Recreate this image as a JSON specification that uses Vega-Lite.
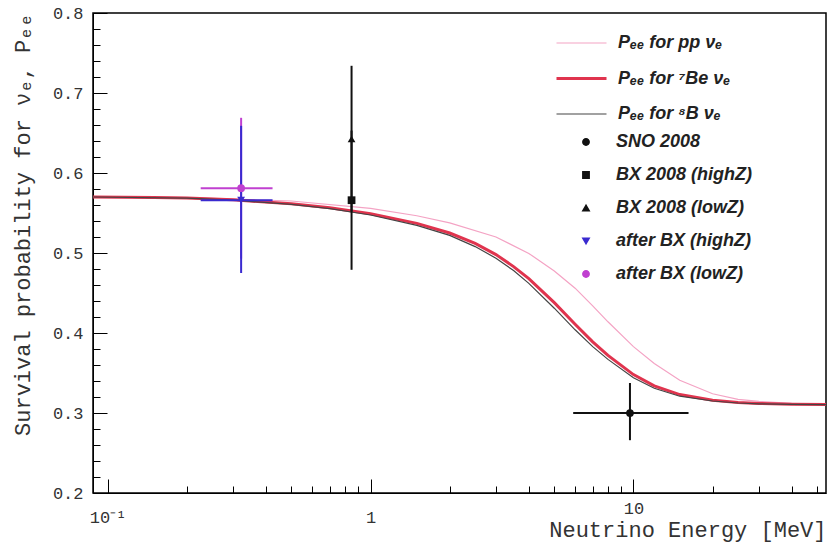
{
  "$schema": "https://vega.github.io/schema/vega-lite/v6.json",
  "width": 733,
  "height": 480,
  "autosize": {"type": "none"},
  "padding": {"left": 93, "top": 13, "right": 5, "bottom": 50},
  "background": "white",
  "config": {
    "view": {"stroke": "#000", "strokeWidth": 1.5},
    "axis": {"labelFont": "Liberation Mono", "titleFont": "Liberation Mono", "labelColor": "#333", "titleColor": "#333", "domainColor": "#000", "tickColor": "#000", "grid": false, "labelOverlap": false}
  },
  "resolve": {"axis": {"x": "independent", "y": "independent"}},
  "datasets": {
    "curves": [
      {"curve": "Pₑₑ for pp νₑ", "E": 0.088, "P": 0.5702},
      {"curve": "Pₑₑ for pp νₑ", "E": 0.2, "P": 0.5694},
      {"curve": "Pₑₑ for pp νₑ", "E": 0.5, "P": 0.5650},
      {"curve": "Pₑₑ for pp νₑ", "E": 1.0, "P": 0.5557},
      {"curve": "Pₑₑ for pp νₑ", "E": 1.5, "P": 0.5466},
      {"curve": "Pₑₑ for pp νₑ", "E": 2.0, "P": 0.5377},
      {"curve": "Pₑₑ for pp νₑ", "E": 3.0, "P": 0.5200},
      {"curve": "Pₑₑ for pp νₑ", "E": 4.0, "P": 0.4995},
      {"curve": "Pₑₑ for pp νₑ", "E": 5.0, "P": 0.4775},
      {"curve": "Pₑₑ for pp νₑ", "E": 6.0, "P": 0.4560},
      {"curve": "Pₑₑ for pp νₑ", "E": 7.0, "P": 0.4340},
      {"curve": "Pₑₑ for pp νₑ", "E": 8.0, "P": 0.4140},
      {"curve": "Pₑₑ for pp νₑ", "E": 10, "P": 0.3830},
      {"curve": "Pₑₑ for pp νₑ", "E": 12, "P": 0.3620},
      {"curve": "Pₑₑ for pp νₑ", "E": 15, "P": 0.3410},
      {"curve": "Pₑₑ for pp νₑ", "E": 20, "P": 0.3240},
      {"curve": "Pₑₑ for pp νₑ", "E": 25, "P": 0.3170},
      {"curve": "Pₑₑ for pp νₑ", "E": 30, "P": 0.3145},
      {"curve": "Pₑₑ for pp νₑ", "E": 40, "P": 0.3121},
      {"curve": "Pₑₑ for pp νₑ", "E": 54, "P": 0.3110},
      {"curve": "Pₑₑ for ⁷Be νₑ", "E": 0.088, "P": 0.5700},
      {"curve": "Pₑₑ for ⁷Be νₑ", "E": 0.15, "P": 0.5695},
      {"curve": "Pₑₑ for ⁷Be νₑ", "E": 0.2, "P": 0.5688},
      {"curve": "Pₑₑ for ⁷Be νₑ", "E": 0.3, "P": 0.5665},
      {"curve": "Pₑₑ for ⁷Be νₑ", "E": 0.5, "P": 0.5615},
      {"curve": "Pₑₑ for ⁷Be νₑ", "E": 0.7, "P": 0.5565},
      {"curve": "Pₑₑ for ⁷Be νₑ", "E": 1.0, "P": 0.5490},
      {"curve": "Pₑₑ for ⁷Be νₑ", "E": 1.5, "P": 0.5370},
      {"curve": "Pₑₑ for ⁷Be νₑ", "E": 2.0, "P": 0.5250},
      {"curve": "Pₑₑ for ⁷Be νₑ", "E": 2.5, "P": 0.5120},
      {"curve": "Pₑₑ for ⁷Be νₑ", "E": 3.0, "P": 0.4980},
      {"curve": "Pₑₑ for ⁷Be νₑ", "E": 3.5, "P": 0.4830},
      {"curve": "Pₑₑ for ⁷Be νₑ", "E": 4.0, "P": 0.4680},
      {"curve": "Pₑₑ for ⁷Be νₑ", "E": 5.0, "P": 0.4380},
      {"curve": "Pₑₑ for ⁷Be νₑ", "E": 6.0, "P": 0.4110},
      {"curve": "Pₑₑ for ⁷Be νₑ", "E": 7.0, "P": 0.3890},
      {"curve": "Pₑₑ for ⁷Be νₑ", "E": 8.0, "P": 0.3720},
      {"curve": "Pₑₑ for ⁷Be νₑ", "E": 10, "P": 0.3480},
      {"curve": "Pₑₑ for ⁷Be νₑ", "E": 12, "P": 0.3340},
      {"curve": "Pₑₑ for ⁷Be νₑ", "E": 15, "P": 0.3230},
      {"curve": "Pₑₑ for ⁷Be νₑ", "E": 20, "P": 0.3160},
      {"curve": "Pₑₑ for ⁷Be νₑ", "E": 25, "P": 0.3130},
      {"curve": "Pₑₑ for ⁷Be νₑ", "E": 30, "P": 0.3120},
      {"curve": "Pₑₑ for ⁷Be νₑ", "E": 40, "P": 0.3110},
      {"curve": "Pₑₑ for ⁷Be νₑ", "E": 54, "P": 0.3105},
      {"curve": "Pₑₑ for ⁸B νₑ", "E": 0.088, "P": 0.5700},
      {"curve": "Pₑₑ for ⁸B νₑ", "E": 0.2, "P": 0.5686},
      {"curve": "Pₑₑ for ⁸B νₑ", "E": 0.3, "P": 0.5660},
      {"curve": "Pₑₑ for ⁸B νₑ", "E": 0.5, "P": 0.5608},
      {"curve": "Pₑₑ for ⁸B νₑ", "E": 0.7, "P": 0.5555},
      {"curve": "Pₑₑ for ⁸B νₑ", "E": 1.0, "P": 0.5475},
      {"curve": "Pₑₑ for ⁸B νₑ", "E": 1.5, "P": 0.5345},
      {"curve": "Pₑₑ for ⁸B νₑ", "E": 2.0, "P": 0.5220},
      {"curve": "Pₑₑ for ⁸B νₑ", "E": 2.5, "P": 0.5080},
      {"curve": "Pₑₑ for ⁸B νₑ", "E": 3.0, "P": 0.4935},
      {"curve": "Pₑₑ for ⁸B νₑ", "E": 3.5, "P": 0.4780},
      {"curve": "Pₑₑ for ⁸B νₑ", "E": 4.0, "P": 0.4620},
      {"curve": "Pₑₑ for ⁸B νₑ", "E": 5.0, "P": 0.4310},
      {"curve": "Pₑₑ for ⁸B νₑ", "E": 6.0, "P": 0.4040},
      {"curve": "Pₑₑ for ⁸B νₑ", "E": 7.0, "P": 0.3830},
      {"curve": "Pₑₑ for ⁸B νₑ", "E": 8.0, "P": 0.3670},
      {"curve": "Pₑₑ for ⁸B νₑ", "E": 10, "P": 0.3440},
      {"curve": "Pₑₑ for ⁸B νₑ", "E": 12, "P": 0.3310},
      {"curve": "Pₑₑ for ⁸B νₑ", "E": 15, "P": 0.3210},
      {"curve": "Pₑₑ for ⁸B νₑ", "E": 20, "P": 0.3150},
      {"curve": "Pₑₑ for ⁸B νₑ", "E": 25, "P": 0.3125},
      {"curve": "Pₑₑ for ⁸B νₑ", "E": 30, "P": 0.3115},
      {"curve": "Pₑₑ for ⁸B νₑ", "E": 40, "P": 0.3108},
      {"curve": "Pₑₑ for ⁸B νₑ", "E": 54, "P": 0.3104}
    ],
    "points": [
      {"series": "SNO 2008", "E": 9.7, "P": 0.300, "Elo": 5.9, "Ehi": 16.2, "Plo": 0.266, "Phi": 0.3375},
      {"series": "BX 2008 (highZ)", "E": 0.847, "P": 0.566, "Elo": 0.847, "Ehi": 0.847, "Plo": 0.479, "Phi": 0.653},
      {"series": "BX 2008 (lowZ)", "E": 0.847, "P": 0.6425, "Elo": 0.847, "Ehi": 0.847, "Plo": 0.552, "Phi": 0.734},
      {"series": "after BX (lowZ)", "E": 0.322, "P": 0.581, "Elo": 0.226, "Ehi": 0.424, "Plo": 0.493, "Phi": 0.669},
      {"series": "after BX (highZ)", "E": 0.322, "P": 0.566, "Elo": 0.226, "Ehi": 0.424, "Plo": 0.475, "Phi": 0.659}
    ]
  },
  "layer": [
    {
      "data": {"name": "curves"},
      "mark": {"type": "line", "clip": true},
      "encoding": {
        "x": {"field": "E", "type": "quantitative", "scale": {"type": "log", "domain": [0.088, 54], "nice": false},
          "axis": {"orient": "bottom", "values": [0.1, 1, 10],
            "labelExpr": "datum.value == 0.1 ? '10⁻¹' : datum.value == 1 ? '1' : '10'",
            "tickSize": -14,
            "labelPadding": {"condition": {"test": "datum.value == 10", "value": 21}, "value": 30},
            "labelFontSize": 17, "labelFlush": false,
            "title": "Neutrino Energy [MeV]", "titleAnchor": "end", "titleFontSize": 22, "titleFontWeight": "normal", "titleBaseline": "middle", "titleY": 36}},
        "y": {"field": "P", "type": "quantitative", "scale": {"domain": [0.2, 0.8], "nice": false, "zero": false},
          "axis": {"orient": "left", "values": [0.2, 0.3, 0.4, 0.5, 0.6, 0.7, 0.8],
            "format": ".1f",
            "tickSize": -14, "labelPadding": 24, "labelFontSize": 17, "labelFlush": false,
            "title": "Survival probability for νₑ, Pₑₑ", "titleAnchor": "end", "titleFontSize": 22, "titleFontWeight": "normal", "titleBaseline": "middle", "titleX": -71}},
        "stroke": {"field": "curve", "type": "nominal",
          "scale": {"domain": ["Pₑₑ for pp νₑ", "Pₑₑ for ⁷Be νₑ", "Pₑₑ for ⁸B νₑ"], "range": ["#f4a3c4", "#e0344e", "#444444"]},
          "legend": {"orient": "none", "legendX": 462, "legendY": 4, "title": null, "symbolSize": 2500, "labelFont": "Liberation Sans", "labelFontStyle": "italic", "labelFontWeight": "bold", "labelFontSize": 18, "labelColor": "#222", "labelOffset": 10, "rowPadding": -4}},
        "strokeWidth": {"field": "curve", "type": "nominal",
          "scale": {"type": "ordinal", "domain": ["Pₑₑ for pp νₑ", "Pₑₑ for ⁷Be νₑ", "Pₑₑ for ⁸B νₑ"], "range": [1.2, 3, 1.2]},
          "legend": {"orient": "none", "legendX": 462, "legendY": 4, "title": null, "symbolSize": 2500, "labelFont": "Liberation Sans", "labelFontStyle": "italic", "labelFontWeight": "bold", "labelFontSize": 18, "labelColor": "#222", "labelOffset": 10, "rowPadding": -4}},
        "order": {"field": "E", "type": "quantitative"}
      }
    },
    {
      "data": {"name": "points"},
      "mark": {"type": "rule", "strokeWidth": 2},
      "encoding": {
        "x": {"field": "Elo", "type": "quantitative",
          "axis": {"orient": "bottom", "values": [0.2, 0.3, 0.4, 0.5, 0.6, 0.7, 0.8, 0.9, 2, 3, 4, 5, 6, 7, 8, 9, 20, 30, 40, 50], "labels": false, "domain": false, "tickSize": -7, "title": null}},
        "x2": {"field": "Ehi"},
        "y": {"field": "P", "type": "quantitative",
          "axis": {"orient": "left", "values": [0.22, 0.24, 0.26, 0.28, 0.32, 0.34, 0.36, 0.38, 0.42, 0.44, 0.46, 0.48, 0.52, 0.54, 0.56, 0.58, 0.62, 0.64, 0.66, 0.68, 0.72, 0.74, 0.76, 0.78], "labels": false, "domain": false, "tickSize": -7, "title": null}},
        "color": {"field": "series", "type": "nominal"}
      }
    },
    {
      "data": {"name": "points"},
      "mark": {"type": "rule", "strokeWidth": 2},
      "encoding": {
        "x": {"field": "E", "type": "quantitative", "axis": null},
        "y": {"field": "Plo", "type": "quantitative", "axis": null},
        "y2": {"field": "Phi"},
        "color": {"field": "series", "type": "nominal"}
      }
    },
    {
      "data": {"name": "points"},
      "mark": {"type": "point", "filled": true, "size": 60, "opacity": 1},
      "encoding": {
        "x": {"field": "E", "type": "quantitative", "axis": null},
        "y": {"field": "P", "type": "quantitative", "axis": null},
        "color": {"field": "series", "type": "nominal",
          "scale": {"domain": ["SNO 2008", "BX 2008 (highZ)", "BX 2008 (lowZ)", "after BX (highZ)", "after BX (lowZ)"], "range": ["#111111", "#111111", "#111111", "#3a2ad0", "#c040d0"]},
          "legend": {"orient": "none", "legendX": 484, "legendY": 120, "title": null, "symbolType": "circle", "symbolSize": 40, "labelFont": "Liberation Sans", "labelFontStyle": "italic", "labelFontWeight": "bold", "labelFontSize": 18, "labelColor": "#222", "labelOffset": 21, "rowPadding": 15}},
        "shape": {"field": "series", "type": "nominal",
          "scale": {"domain": ["SNO 2008", "BX 2008 (highZ)", "BX 2008 (lowZ)", "after BX (highZ)", "after BX (lowZ)"], "range": ["circle", "square", "triangle-up", "triangle-down", "circle"]},
          "legend": {"orient": "none", "legendX": 484, "legendY": 120, "title": null, "symbolSize": 40, "labelFont": "Liberation Sans", "labelFontStyle": "italic", "labelFontWeight": "bold", "labelFontSize": 18, "labelColor": "#222", "labelOffset": 21, "rowPadding": 15}}
      }
    }
  ]
}
